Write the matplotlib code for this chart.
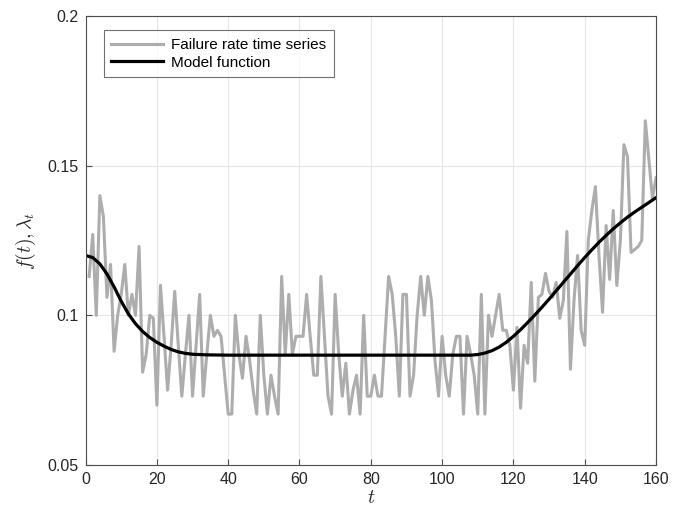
import numpy as np
import matplotlib
matplotlib.use("Agg")
import matplotlib.pyplot as plt

# failure rate series, t = 1..160
rate = [
    0.113, 0.127, 0.100, 0.140, 0.133, 0.106, 0.117, 0.088, 0.100, 0.107,
    0.117, 0.100, 0.107, 0.100, 0.123, 0.081, 0.087, 0.100, 0.099, 0.070,
    0.110, 0.093, 0.075, 0.090, 0.108, 0.090, 0.073, 0.087, 0.100, 0.073,
    0.090, 0.107, 0.073, 0.087, 0.100, 0.093, 0.095, 0.093, 0.080, 0.067,
    0.067, 0.100, 0.087, 0.079, 0.093, 0.085, 0.075, 0.067, 0.100, 0.080,
    0.067, 0.080, 0.073, 0.067, 0.113, 0.087, 0.107, 0.087, 0.093, 0.093,
    0.093, 0.107, 0.093, 0.080, 0.080, 0.113, 0.093, 0.073, 0.067, 0.107,
    0.087, 0.073, 0.084, 0.067, 0.075, 0.080, 0.067, 0.100, 0.073, 0.073,
    0.080, 0.073, 0.073, 0.093, 0.113, 0.107, 0.093, 0.073, 0.107, 0.107,
    0.073, 0.080, 0.100, 0.113, 0.100, 0.113, 0.105, 0.085, 0.073, 0.093,
    0.080, 0.073, 0.087, 0.093, 0.093, 0.067, 0.093, 0.087, 0.080, 0.067,
    0.107, 0.067, 0.100, 0.093, 0.100, 0.107, 0.095, 0.095, 0.090, 0.075,
    0.096, 0.069, 0.090, 0.084, 0.111, 0.078, 0.106, 0.107, 0.114, 0.108,
    0.106, 0.111, 0.099, 0.105, 0.128, 0.082, 0.105, 0.120, 0.095, 0.090,
    0.125, 0.135, 0.143, 0.120, 0.101, 0.130, 0.112, 0.135, 0.110, 0.125,
    0.157, 0.153, 0.121, 0.122, 0.123, 0.125, 0.165, 0.152, 0.139, 0.146,
]
t_rate = np.arange(1, len(rate) + 1)

# model function, read at a coarser step
t_model = [0, 2, 4, 6, 8, 10, 12, 14, 16, 18, 20, 22, 24, 26, 28, 30, 34, 40,
           60, 90, 108, 110, 112, 114, 116, 118, 120, 122, 124, 126,
           128, 130, 132, 134, 136, 138, 140, 142, 144, 146, 148, 150,
           152, 154, 156, 158, 160]
model = [0.1200, 0.1193, 0.1172, 0.1138, 0.1095, 0.1047, 0.1005, 0.0972,
         0.0946, 0.0926, 0.0910, 0.0897, 0.0886, 0.0878, 0.0873, 0.0870,
         0.0868, 0.0867,
         0.0867, 0.0867, 0.0867, 0.0869, 0.0874, 0.0882, 0.0894, 0.0910,
         0.0930, 0.0952, 0.0976, 0.1001, 0.1027, 0.1054, 0.1082, 0.1110,
         0.1138, 0.1166, 0.1193, 0.1219, 0.1244, 0.1267, 0.1289, 0.1309,
         0.1328, 0.1345, 0.1361, 0.1377, 0.1393]

x_ticks = [0, 20, 40, 60, 80, 100, 120, 140, 160]
y_ticks = [0.05, 0.1, 0.15, 0.2]
y_tick_labels = ["0.05", "0.1", "0.15", "0.2"]

plt.rcParams['font.family'] = ['Liberation Sans', 'DejaVu Sans']
plt.rcParams['mathtext.fontset'] = 'cm'

axis_col = '#4d4d4d'

fig = plt.figure(figsize=(6.83, 5.14), dpi=100)
ax = fig.add_axes([0.1253, 0.0953, 0.8352, 0.8736])

ax.plot(t_rate, rate, color='#adadad', lw=2.2, label='Failure rate time series')
ax.plot(t_model, model, color='black', lw=2.3, label='Model function')

ax.set_xlim(0, 160)
ax.set_ylim(0.05, 0.2)
ax.set_xticks(x_ticks)
ax.set_yticks(y_ticks)
ax.set_yticklabels(y_tick_labels)
ax.grid(True, color='#e6e6e6', lw=0.8)
ax.set_axisbelow(True)

for s in ax.spines.values():
    s.set_color(axis_col)
    s.set_linewidth(0.8)
ax.tick_params(direction='in', length=4, width=0.8, colors=axis_col,
               labelcolor='#262626', labelsize=11.5, pad=5)

ax.set_xlabel(r'$t$', fontsize=14, color='#262626', labelpad=2)
ax.set_ylabel(r'$f(t), \lambda_t$', fontsize=14, color='#262626', labelpad=7)

leg = ax.legend(loc='upper left', bbox_to_anchor=(0.032, 0.968), fontsize=11,
                frameon=True, fancybox=False, handlelength=3.4,
                borderpad=0.5, labelspacing=0.25, handletextpad=0.5,
                borderaxespad=0)
leg.get_frame().set_edgecolor(axis_col)
leg.get_frame().set_linewidth(0.8)

fig.savefig('out.png', dpi=100)
